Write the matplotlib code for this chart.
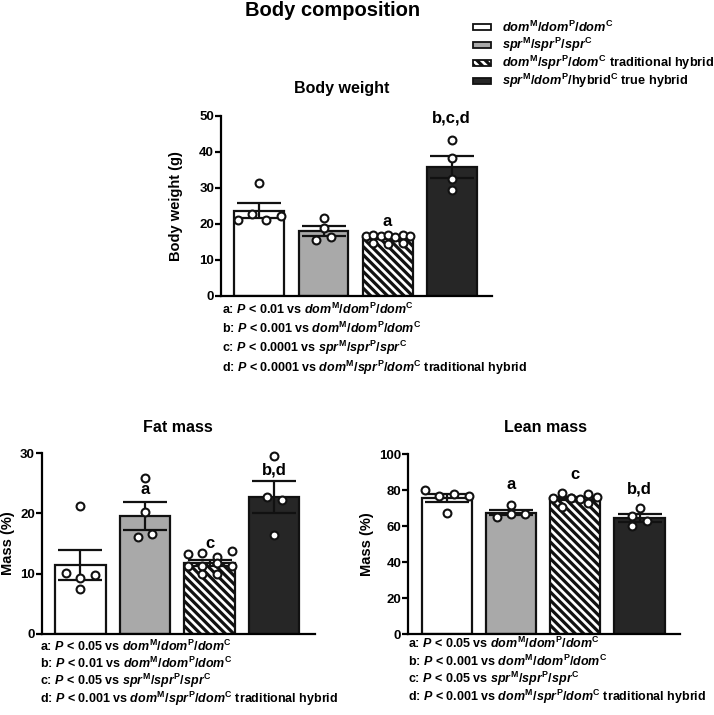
import numpy as np
import matplotlib
matplotlib.use('Agg')
import matplotlib.pyplot as plt
from matplotlib.patches import Rectangle

plt.rcParams['font.family'] = ['Liberation Sans', 'DejaVu Sans']
plt.rcParams['font.weight'] = 'bold'
plt.rcParams['mathtext.fontset'] = 'custom'
plt.rcParams['mathtext.rm'] = 'Liberation Sans:bold'
plt.rcParams['mathtext.it'] = 'Liberation Sans:italic:bold'
plt.rcParams['mathtext.bf'] = 'Liberation Sans:bold'
plt.rcParams['hatch.linewidth'] = 2.3
plt.rcParams['hatch.color'] = '#111111'

# ──────────────────────────────────────────────
# DATA
# ──────────────────────────────────────────────
# Body weight (g)
bw_mean = [23.7, 18.0, 16.1, 35.8]
bw_sem = [2.0, 1.4, 0.4, 3.1]
bw_pts = [[21.1, 22.8, 31.3, 21.1, 22.2],
          [21.6, 18.8, 15.6, 16.5],
          [16.8, 17.0, 16.6, 16.9, 16.5, 17.0, 16.6, 14.6, 14.4, 14.8],
          [43.2, 38.2, 32.5, 29.4]]
bw_off = [[-0.34, -0.11, 0.0, 0.11, 0.34],
          [0.0, 0.0, -0.11, 0.12],
          [-0.34, -0.22, -0.11, 0.01, 0.12, 0.24, 0.35, -0.22, 0.01, 0.24],
          [0.0, 0.0, 0.0, 0.0]]
bw_letters = ['', '', 'a', 'b,c,d']
bw_letter_y = [0, 0, 20.6, 49.4]

# Fat mass (%)
fat_mean = [11.5, 19.6, 11.8, 22.7]
fat_sem = [2.5, 2.3, 0.5, 2.7]
fat_pts = [[21.2, 10.1, 9.8, 9.2, 7.5],
           [25.9, 20.2, 16.0, 16.6],
           [13.2, 13.4, 12.8, 13.7, 11.2, 11.2, 11.8, 11.2, 9.9, 9.9],
           [29.6, 22.7, 22.3, 16.4]]
fat_off = [[0.0, -0.22, 0.23, 0.0, 0.0],
           [0.0, 0.0, -0.11, 0.11],
           [-0.34, -0.12, 0.11, 0.34, -0.34, -0.12, 0.11, 0.34, -0.12, 0.11],
           [0.0, -0.11, 0.12, 0.0]]
fat_letters = ['', 'a', 'c', 'b,d']
fat_letter_y = [0, 24.0, 15.0, 27.3]

# Lean mass (%)
lean_mean = [75.8, 67.6, 75.5, 64.7]
lean_sem = [2.3, 1.5, 0.9, 2.2]
lean_pts = [[80.2, 76.8, 77.9, 76.8, 67.6],
            [71.8, 65.0, 66.8, 66.8],
            [75.6, 78.7, 70.9, 75.6, 74.9, 76.5, 77.9, 72.8, 76.1, 75.8],
            [70.0, 65.7, 63.1, 60.2]]
lean_off = [[-0.34, -0.12, 0.11, 0.35, 0.0],
            [0.0, -0.22, 0.0, 0.22],
            [-0.34, -0.2, -0.2, -0.07, 0.07, 0.2, 0.2, 0.2, 0.34, -0.07],
            [0.0, -0.12, 0.11, -0.12]]
lean_letters = ['', 'a', 'c', 'b,d']
lean_letter_y = [0, 83, 89, 81]

dom = r'$dom^{\mathrm{M}}/dom^{\mathrm{P}}/dom^{\mathrm{C}}$'
spr = r'$spr^{\mathrm{M}}/spr^{\mathrm{P}}/spr^{\mathrm{C}}$'
trad = r'$dom^{\mathrm{M}}/spr^{\mathrm{P}}/dom^{\mathrm{C}}$'
true_h = r'$spr^{\mathrm{M}}/dom^{\mathrm{P}}/\mathrm{hybrid}^{\mathrm{C}}$'
legend_labels = [dom, spr, trad + ' traditional hybrid', true_h + ' true hybrid']

bw_notes = ['a: $P$ < 0.01 vs ' + dom,
            'b: $P$ < 0.001 vs ' + dom,
            'c: $P$ < 0.0001 vs ' + spr,
            'd: $P$ < 0.0001 vs ' + trad + ' traditional hybrid']
fat_notes = ['a: $P$ < 0.05 vs ' + dom,
             'b: $P$ < 0.01 vs ' + dom,
             'c: $P$ < 0.05 vs ' + spr,
             'd: $P$ < 0.001 vs ' + trad + ' traditional hybrid']
lean_notes = ['a: $P$ < 0.05 vs ' + dom,
              'b: $P$ < 0.001 vs ' + dom,
              'c: $P$ < 0.05 vs ' + spr,
              'd: $P$ < 0.001 vs ' + trad + ' traditional hybrid']

# styles
FACES = ['white', '#a9a9a9', 'white', '#262626']
HATCH = [None, None, '\\\\\\\\', None]
EDGE = '#111111'

W, H = 714, 715
fig = plt.figure(figsize=(W / 100, H / 100), dpi=100)


def px_axes(left, right, top, bottom):
    return fig.add_axes([left / W, 1 - bottom / H, (right - left) / W, (bottom - top) / H])


def draw_panel(ax, means, sems, pts, offs, letters, letter_y, ymax, step, ylabel):
    x = np.arange(len(means))
    for i in range(len(means)):
        ax.bar(x[i], means[i], width=0.78, color=FACES[i], edgecolor=EDGE,
               linewidth=1.6, hatch=HATCH[i], zorder=2)
        ax.errorbar(x[i], means[i], yerr=sems[i], color=EDGE, capsize=16,
                    elinewidth=1.6, capthick=1.6, zorder=3)
        ax.scatter(x[i] + np.array(offs[i]), pts[i], s=32, facecolor='white',
                   edgecolor=EDGE, linewidth=1.5, zorder=4, clip_on=False)
        if letters[i]:
            ax.text(x[i], letter_y[i], letters[i], ha='center', va='center',
                    fontsize=12, fontweight='bold')
    ax.set_xlim(-0.6, 3.63)
    ax.set_ylim(0, ymax)
    ax.set_yticks(np.arange(0, ymax + 1, step))
    ax.set_xticks([])
    for s in ['top', 'right']:
        ax.spines[s].set_visible(False)
    for s in ['left', 'bottom']:
        ax.spines[s].set_linewidth(1.6)
    ax.tick_params(axis='y', length=4, width=1.6, labelsize=9.5, pad=1)
    for t in ax.get_yticklabels():
        t.set_fontweight('bold')
    ax.set_ylabel(ylabel, fontsize=10.5, fontweight='bold')


# ── Body weight ──
ax1 = px_axes(221, 492, 116, 296)
draw_panel(ax1, bw_mean, bw_sem, bw_pts, bw_off, bw_letters, bw_letter_y, 50, 10, 'Body weight (g)')
ax1.yaxis.set_label_coords(-0.142, 0.5)
fig.text(342 / W, 1 - 88 / H, 'Body weight', ha='center', va='center', fontsize=11.5, fontweight='bold')
for k, note in enumerate(bw_notes):
    fig.text(222 / W, 1 - (309 + 19.5 * k) / H, note, ha='left', va='center', fontsize=9)

# ── Fat mass ──
ax2 = px_axes(41.7, 315, 453.3, 633.7)
draw_panel(ax2, fat_mean, fat_sem, fat_pts, fat_off, fat_letters, fat_letter_y, 30, 10, 'Mass (%)')
ax2.yaxis.set_label_coords(-0.098, 0.5)
fig.text(178 / W, 1 - 428 / H, 'Fat mass', ha='center', va='center', fontsize=11.5, fontweight='bold')
for k, note in enumerate(fat_notes):
    fig.text(40 / W, 1 - (646 + 17.7 * k) / H, note, ha='left', va='center', fontsize=9)

# ── Lean mass ──
ax3 = px_axes(408.3, 680, 454.3, 634.3)
draw_panel(ax3, lean_mean, lean_sem, lean_pts, lean_off, lean_letters, lean_letter_y, 100, 20, 'Mass (%)')
ax3.yaxis.set_label_coords(-0.126, 0.5)
fig.text(545 / W, 1 - 427 / H, 'Lean mass', ha='center', va='center', fontsize=11.5, fontweight='bold')
for k, note in enumerate(lean_notes):
    fig.text(408 / W, 1 - (643 + 17.9 * k) / H, note, ha='left', va='center', fontsize=9)

# ── Title + legend ──
fig.text(333 / W, 1 - 11 / H, 'Body composition', ha='center', va='center', fontsize=14.5, fontweight='bold')
for k, lab in enumerate(legend_labels):
    yc = 27 + 18 * k
    fig.patches.append(Rectangle((473 / W, 1 - (yc + 3) / H), 18 / W, 6 / H,
                                 transform=fig.transFigure, facecolor=FACES[k],
                                 edgecolor=EDGE, linewidth=1.3, hatch=HATCH[k]))
    fig.text(502 / W, 1 - yc / H, lab, ha='left', va='center', fontsize=9.2)

plt.savefig('out.png', dpi=100)
